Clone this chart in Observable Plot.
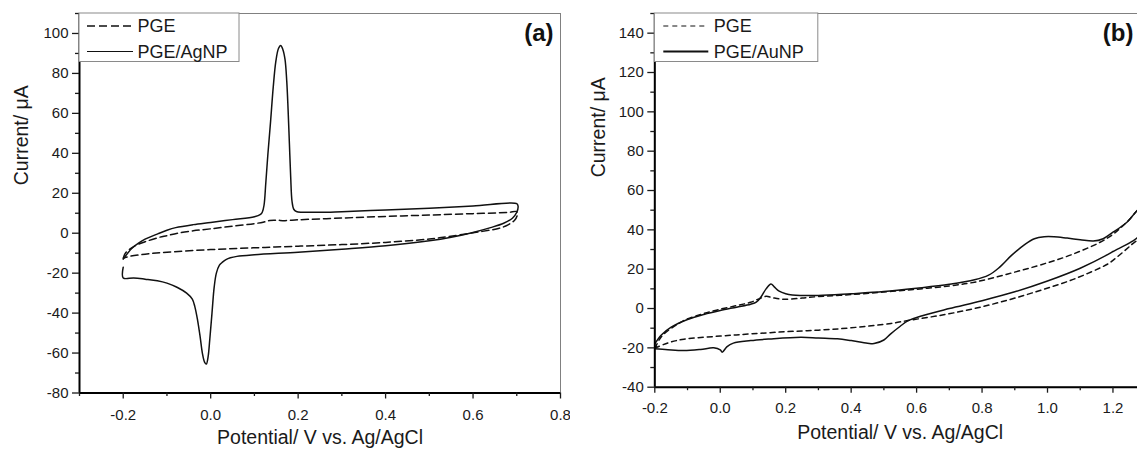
<!DOCTYPE html>
<html>
<head>
<meta charset="utf-8">
<script src="https://cdn.jsdelivr.net/npm/d3@7"></script>
<script src="https://cdn.jsdelivr.net/npm/@observablehq/plot@0.6"></script>
<style>
  html, body { margin: 0; padding: 0; background: #fff; }
  #wrap { position: relative; width: 1137px; height: 452px; overflow: hidden; }
  #pa { position: absolute; left: 0; top: 0; }
  #pb { position: absolute; left: 570px; top: 0; }
  svg { font-family: "Liberation Sans", Arial, sans-serif; }
</style>
</head>
<body>
<div id="wrap"><div id="pa"></div><div id="pb"></div></div>
<script>
// ---------- Panel (a) ----------
const xDomainA = [-0.3, 0.8];
const yDomainA = [-80, 110];
const xTicksA = [-0.2, 0.0, 0.2, 0.4, 0.6, 0.8];
const xMinorA = [-0.3, -0.1, 0.1, 0.3, 0.5, 0.7];
const yTicksA = [-80, -60, -40, -20, 0, 20, 40, 60, 80, 100];
const yMinorA = [-70, -50, -30, -10, 10, 30, 50, 70, 90, 110];
const legendA = ["PGE", "PGE/AgNP"];

// [potential (V), current (µA)]
const pgeA = [
  [-0.2,-12.5],[-0.195,-10],[-0.185,-8],[-0.17,-6],[-0.15,-4.3],[-0.12,-2.2],[-0.1,-1.2],
  [-0.076,0],[-0.04,1.2],[0,2.2],[0.05,3.5],[0.1,4.8],[0.12,5.5],[0.135,6.4],[0.15,6.5],
  [0.17,6.3],[0.2,6.7],[0.3,7.6],[0.4,8.4],[0.5,9.1],[0.6,9.8],[0.68,10.4],[0.7,10.8],
  [0.701,9],[0.695,6.5],[0.68,4.2],[0.66,2.5],[0.6,0.2],[0.54,-1.8],[0.5,-2.9],[0.4,-4.6],
  [0.3,-5.7],[0.2,-6.5],[0.1,-7.3],[0,-8.2],[-0.1,-9.5],[-0.15,-10.5],[-0.19,-11.8],[-0.2,-12.5]
];
const agnpA = [
  [-0.2,-13],[-0.19,-10],[-0.18,-7.5],[-0.165,-5],[-0.15,-3],[-0.12,-0.2],[-0.1,1.5],
  [-0.08,2.8],[-0.04,4.3],[0,5.4],[0.05,6.8],[0.1,8.2],[0.114,9.4],[0.118,10.5],[0.122,14],
  [0.126,25],[0.131,40],[0.137,56],[0.143,73],[0.149,86],[0.155,92.5],[0.16,94],[0.165,92],
  [0.17,87],[0.174,76],[0.177,62],[0.18,45],[0.183,28],[0.186,16],[0.19,12],[0.196,10.9],
  [0.25,10.5],[0.3,10.8],[0.4,11.6],[0.5,12.5],[0.6,13.6],[0.7,14.8],[0.703,13.5],[0.7,10.5],
  [0.69,7.5],[0.67,5],[0.64,2.8],[0.6,0.4],[0.55,-2],[0.5,-3.8],[0.4,-6.3],[0.3,-8],[0.2,-9.5],
  [0.1,-10.8],[0.06,-11.6],[0.045,-12.3],[0.035,-13.2],[0.027,-14.5],[0.02,-16],[0.013,-20],
  [0.008,-27],[0.003,-40],[-0.002,-53],[-0.006,-62],[-0.01,-65.5],[-0.014,-64.5],[-0.019,-60],
  [-0.024,-52],[-0.03,-43.5],[-0.036,-37],[-0.042,-33],[-0.055,-30],[-0.076,-27.2],
  [-0.1,-25],[-0.122,-23.8],[-0.15,-23],[-0.176,-22.4],[-0.2,-22.4],[-0.2,-17]
];

// ---------- Panel (b) ----------
const xDomainB = [-0.2, 1.275];
const yDomainB = [-40, 150];
const xTicksB = [-0.2, 0.0, 0.2, 0.4, 0.6, 0.8, 1.0, 1.2];
const xMinorB = [-0.1, 0.1, 0.3, 0.5, 0.7, 0.9, 1.1];
const yTicksB = [-40, -20, 0, 20, 40, 60, 80, 100, 120, 140];
const yMinorB = [-30, -10, 10, 30, 50, 70, 90, 110, 130, 150];
const legendB = ["PGE", "PGE/AuNP"];

const pgeB = [
  [-0.2,-20.2],[-0.185,-15.5],[-0.172,-12.9],[-0.14,-9],[-0.111,-6.1],[-0.06,-3],[-0.009,-0.7],
  [0.05,1.5],[0.093,3.2],[0.12,5],[0.14,6.2],[0.16,5.5],[0.195,4.7],[0.25,5.3],[0.3,6.1],
  [0.4,7.1],[0.5,8.4],[0.6,9.8],[0.7,11.5],[0.777,13.4],[0.879,17.6],[0.981,22.3],[1.083,28],
  [1.185,36],[1.246,44.5],[1.285,51],
  [1.285,37],[1.257,32.5],[1.2,24.5],[1.185,22.7],[1.083,15.1],[0.981,9.4],[0.879,4.3],
  [0.777,0],[0.675,-3.4],[0.573,-6.1],[0.522,-7.6],[0.4,-9.8],[0.3,-11],[0.2,-11.8],
  [0.093,-12.9],[0,-14],[-0.111,-15.6],[-0.16,-17.5],[-0.2,-20.2]
];
const aunpB = [
  [-0.2,-18],[-0.18,-13.5],[-0.15,-9.5],[-0.1,-5.6],[-0.05,-3],[0,-1],[0.05,0.7],[0.093,2.2],
  [0.11,3.2],[0.125,6],[0.14,10],[0.155,12.5],[0.165,11],[0.18,8.8],[0.2,7.5],[0.22,6.9],
  [0.3,6.6],[0.4,7.5],[0.5,8.6],[0.6,10.3],[0.7,12.3],[0.777,14.6],[0.82,17],[0.85,20.5],
  [0.89,27],[0.93,32.5],[0.96,35.5],[0.99,36.5],[1.02,36.5],[1.06,35.8],[1.1,35],[1.14,34.3],
  [1.17,35.5],[1.2,38.8],[1.24,43.5],[1.285,51],
  [1.285,38],[1.257,34],[1.2,29],[1.185,27.5],[1.1,20.5],[1.0,14],[0.9,8.5],[0.8,4],[0.7,0],
  [0.62,-3.5],[0.573,-6.3],[0.55,-9],[0.52,-13],[0.5,-16],[0.47,-17.8],[0.45,-17.6],[0.4,-16.3],
  [0.358,-15.4],[0.3,-15],[0.246,-14.6],[0.15,-15.5],[0.093,-16.3],[0.04,-17.6],[0.02,-19.5],
  [0.006,-22.2],[0,-21],[-0.02,-20],[-0.06,-20.8],[-0.111,-21.4],[-0.16,-21],[-0.2,-20.5]
];

const FONT = '"Liberation Sans", Arial, sans-serif';

function panel(o) {
  const chart = Plot.plot({
    width: o.width, height: 452,
    marginLeft: o.ml, marginRight: o.mr, marginTop: o.mt, marginBottom: o.mb,
    x: {domain: o.xDomain},
    y: {domain: o.yDomain},
    style: {fontFamily: FONT, fontSize: "15px", color: "#1a1a1a", background: "white", overflow: "hidden"},
    marks: [
      Plot.frame({stroke: "#808080", strokeWidth: 1}),
      Plot.line(o.dashed, {x: d => d[0], y: d => d[1], curve: "catmull-rom", stroke: "#111",
        strokeWidth: 1.5, strokeDasharray: o.dash, clip: true}),
      Plot.line(o.solid, {x: d => d[0], y: d => d[1], curve: "catmull-rom", stroke: "#111",
        strokeWidth: 1.5, clip: true}),
      Plot.ruleX([o.xDomain[0]], {stroke: "#000", strokeWidth: 2}),
      Plot.ruleY([o.yDomain[0]], {stroke: "#000", strokeWidth: 2}),
      Plot.axisX({ticks: o.xTicks, tickFormat: d => d.toFixed(1), tickSize: 6, tickPadding: o.xPad,
        label: null, strokeWidth: 1.3}),
      Plot.axisX({ticks: o.xMinor, tickFormat: () => "", tickSize: 3.5, label: null, strokeWidth: 1.3}),
      Plot.axisY({ticks: o.yTicks, tickFormat: d => String(d), tickSize: 7, tickPadding: 4,
        label: null, strokeWidth: 1.3}),
      Plot.axisY({ticks: o.yMinor, tickFormat: () => "", tickSize: 4, label: null, strokeWidth: 1.3}),
      Plot.text(["Current/ μA"], {text: d => d, frameAnchor: "left", rotate: -90,
        dx: o.yTitleDx, dy: o.yTitleDy, fontSize: 19.5, fill: "#1a1a1a"}),
      Plot.text(["Potential/ V vs. Ag/AgCl"], {text: d => d, frameAnchor: "bottom",
        dx: o.xTitleDx, dy: o.xTitleDy, fontSize: 19.5, fill: "#1a1a1a"}),
      Plot.text([o.tag], {text: d => d, frameAnchor: "top-right", textAnchor: "end", lineAnchor: "top",
        dx: o.tagDx, dy: 10, fontSize: 24, fontWeight: "bold", fill: "#111"})
    ]
  });
  // legend box in the top-left corner of the frame
  const g = d3.select(chart).append("g").attr("font-family", FONT).attr("font-size", 18)
    .attr("text-anchor", "start");
  const lx = o.ml, ly = o.mt;
  g.append("rect").attr("x", lx).attr("y", ly).attr("width", o.legW).attr("height", 48.5)
    .attr("fill", "white").attr("stroke", "#8a8a8a").attr("stroke-width", 1);
  const rows = [
    {label: o.legend[0], dash: o.legDash, w: o.legDashW, cy: 13},
    {label: o.legend[1], dash: null, w: o.legSolidW, cy: 38.5}
  ];
  rows.forEach(r => {
    g.append("line").attr("x1", lx + o.legX1).attr("x2", lx + o.legX2)
      .attr("y1", ly + r.cy).attr("y2", ly + r.cy)
      .attr("stroke", "#111").attr("stroke-width", r.w)
      .attr("stroke-dasharray", r.dash);
    g.append("text").attr("x", lx + o.legTx).attr("y", ly + r.cy).attr("dy", "0.35em")
      .attr("text-anchor", "start").attr("fill", "#1a1a1a").text(r.label);
  });
  return chart;
}

document.getElementById("pa").appendChild(panel({
  width: 570, ml: 79, mr: 10, mt: 13, mb: 59.5,
  xDomain: xDomainA, yDomain: yDomainA, xTicks: xTicksA, xMinor: xMinorA,
  yTicks: yTicksA, yMinor: yMinorA, dashed: pgeA, solid: agnpA, dash: "7,4", xPad: 10,
  yTitleDx: -58, yTitleDy: -18, xTitleDx: 0, xTitleDy: 51.3, tag: "(a)", tagDx: -7,
  legend: legendA, legW: 160, legX1: 8, legX2: 54, legTx: 58.5, legDash: "8,4",
  legDashW: 1.6, legSolidW: 1.2
}));

document.getElementById("pb").appendChild(panel({
  width: 567, ml: 84.3, mr: 0, mt: 13, mb: 65.3,
  xDomain: xDomainB, yDomain: yDomainB, xTicks: xTicksB, xMinor: xMinorB,
  yTicks: yTicksB, yMinor: yMinorB, dashed: pgeB, solid: aunpB, dash: "5,4", xPad: 9,
  yTitleDx: -56, yTitleDy: -23, xTitleDx: 4, xTitleDy: 51.6, tag: "(b)", tagDx: -4,
  legend: legendB, legW: 163.5, legX1: 9, legX2: 54, legTx: 59.5, legDash: "5,4",
  legDashW: 1, legSolidW: 2
}));
</script>
</body>
</html>
